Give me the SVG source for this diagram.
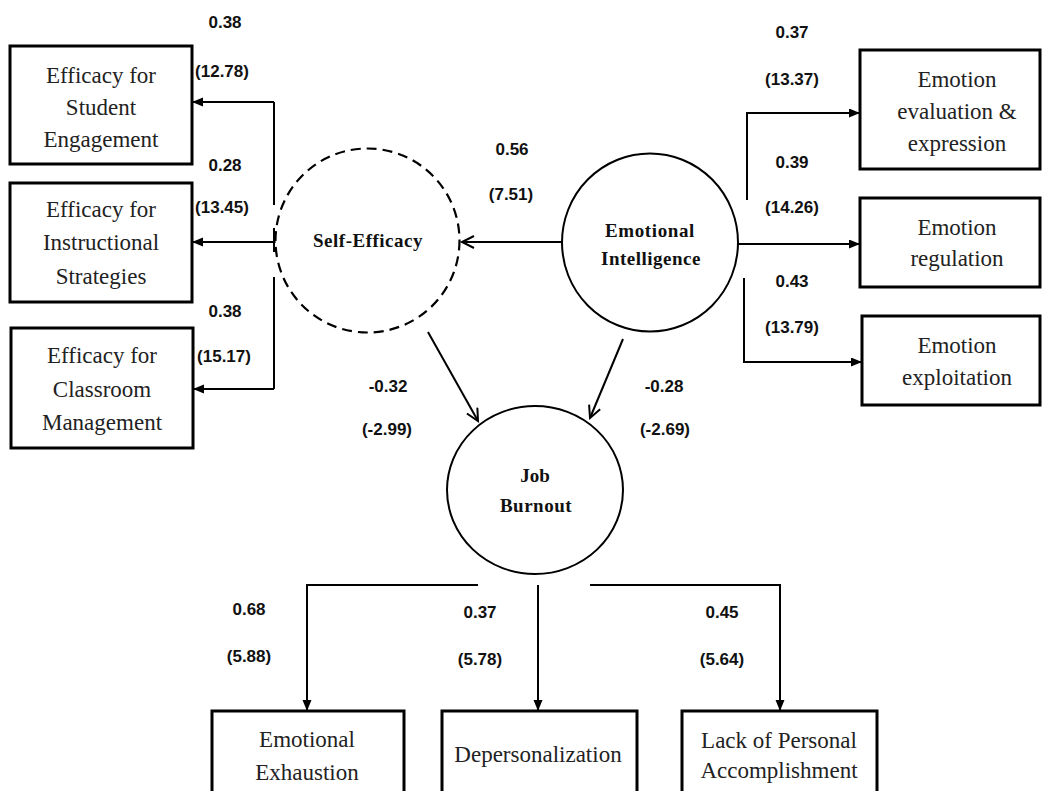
<svg xmlns="http://www.w3.org/2000/svg" width="1043" height="791" viewBox="0 0 1043 791">
<defs>
<marker id="tri" markerUnits="userSpaceOnUse" markerWidth="12" markerHeight="10" refX="11" refY="4.5" orient="auto">
<path d="M0,0 L11,4.5 L0,9 z" fill="#000"/>
</marker>
<marker id="vee" markerUnits="userSpaceOnUse" markerWidth="16" markerHeight="16" refX="13" refY="7" orient="auto">
<path d="M1,1 L13,7 L1,13" fill="none" stroke="#000" stroke-width="2"/>
</marker>
</defs>
<style>
.box{fill:#fff;stroke:#000;stroke-width:3}
.bt{font-family:"Liberation Serif","Times New Roman",serif;font-size:23px;text-anchor:middle;fill:#222}
.nt{font-family:"Liberation Serif","Times New Roman",serif;font-size:19px;font-weight:bold;text-anchor:middle;fill:#111}
.lb{font-family:"Liberation Sans",Arial,sans-serif;font-size:17px;font-weight:bold;text-anchor:middle;fill:#111}
.ln{fill:none;stroke:#000;stroke-width:2}
.circ{fill:#fff;stroke:#000;stroke-width:2}
</style>
<rect width="1043" height="791" fill="#fff"/>

<g id="connectors">
<path class="ln" d="M274,102 V205 M274,228 V252 M274,277 V389"/>
<path class="ln" d="M274,102 H192" marker-end="url(#tri)"/>
<path class="ln" d="M278,242 H192" marker-end="url(#tri)"/>
<path class="ln" d="M274,389 H193" marker-end="url(#tri)"/>
<path class="ln" d="M747,200 V113 H860" marker-end="url(#tri)"/>
<path class="ln" d="M738,244 H860" marker-end="url(#tri)"/>
<path class="ln" d="M744,278 V362 H862" marker-end="url(#tri)"/>
<path class="ln" d="M562,242 H462" marker-end="url(#vee)"/>
<path class="ln" d="M428,332 L478,421" marker-end="url(#vee)"/>
<path class="ln" d="M623,339 L590,418" marker-end="url(#vee)"/>
<path class="ln" d="M478,585 H307 V711" marker-end="url(#tri)"/>
<path class="ln" d="M538,585 V711" marker-end="url(#tri)"/>
<path class="ln" d="M590,585 H780 V711" marker-end="url(#tri)"/>
</g>

<g id="labels">
<text class="lb" x="225" y="28">0.38</text>
<text class="lb" x="222" y="77">(12.78)</text>
<text class="lb" x="225" y="171">0.28</text>
<text class="lb" x="222" y="213">(13.45)</text>
<text class="lb" x="225" y="317">0.38</text>
<text class="lb" x="224" y="362">(15.17)</text>
<text class="lb" x="792" y="38">0.37</text>
<text class="lb" x="792" y="85">(13.37)</text>
<text class="lb" x="792" y="168">0.39</text>
<text class="lb" x="792" y="213">(14.26)</text>
<text class="lb" x="792" y="287">0.43</text>
<text class="lb" x="792" y="333">(13.79)</text>
<text class="lb" x="512" y="155">0.56</text>
<text class="lb" x="511" y="200">(7.51)</text>
<text class="lb" x="388" y="392">-0.32</text>
<text class="lb" x="387" y="435">(-2.99)</text>
<text class="lb" x="664" y="392">-0.28</text>
<text class="lb" x="665" y="435">(-2.69)</text>
<text class="lb" x="249" y="615">0.68</text>
<text class="lb" x="249" y="662">(5.88)</text>
<text class="lb" x="480" y="618">0.37</text>
<text class="lb" x="480" y="665">(5.78)</text>
<text class="lb" x="722" y="618">0.45</text>
<text class="lb" x="722" y="665">(5.64)</text>
</g>

<g id="self-efficacy">
<circle cx="367.5" cy="240.5" r="92" fill="#fff" stroke="#000" stroke-width="2.2" stroke-dasharray="10,6"/>
<text class="nt" x="368" y="247" letter-spacing="0.5">Self-Efficacy</text>
</g>

<g id="emotional-intelligence">
<ellipse class="circ" cx="650" cy="242.5" rx="88" ry="89"/>
<text class="nt" x="650" y="237" letter-spacing="0.6">Emotional</text>
<text class="nt" x="651" y="265" letter-spacing="0.5">Intelligence</text>
</g>

<g id="job-burnout">
<ellipse class="circ" cx="535" cy="490" rx="88" ry="84"/>
<text class="nt" x="535" y="482">Job</text>
<text class="nt" x="536" y="512" letter-spacing="0.5">Burnout</text>
</g>

<g id="efficacy-student-engagement">
<rect class="box" x="10" y="46" width="182" height="118"/>
<text class="bt" x="101" y="83">Efficacy for</text>
<text class="bt" x="101" y="115">Student</text>
<text class="bt" x="101" y="147">Engagement</text>
</g>

<g id="efficacy-instructional-strategies">
<rect class="box" x="10" y="183" width="182" height="119"/>
<text class="bt" x="101" y="217">Efficacy for</text>
<text class="bt" x="101" y="250">Instructional</text>
<text class="bt" x="101" y="284">Strategies</text>
</g>

<g id="efficacy-classroom-management">
<rect class="box" x="11" y="328" width="182" height="120"/>
<text class="bt" x="102" y="363">Efficacy for</text>
<text class="bt" x="102" y="397">Classroom</text>
<text class="bt" x="102" y="430">Management</text>
</g>

<g id="emotion-evaluation-expression">
<rect class="box" x="860" y="50" width="180" height="119"/>
<text class="bt" x="957" y="87">Emotion</text>
<text class="bt" x="957" y="119">evaluation &amp;</text>
<text class="bt" x="957" y="151">expression</text>
</g>

<g id="emotion-regulation">
<rect class="box" x="860" y="198" width="180" height="89"/>
<text class="bt" x="957" y="235">Emotion</text>
<text class="bt" x="957" y="266">regulation</text>
</g>

<g id="emotion-exploitation">
<rect class="box" x="862" y="316" width="178" height="89"/>
<text class="bt" x="957" y="353">Emotion</text>
<text class="bt" x="957" y="385">exploitation</text>
</g>

<g id="emotional-exhaustion">
<rect class="box" x="212" y="711" width="192" height="90"/>
<text class="bt" x="307" y="747">Emotional</text>
<text class="bt" x="307" y="780">Exhaustion</text>
</g>

<g id="depersonalization">
<rect class="box" x="442" y="711" width="195" height="90"/>
<text class="bt" x="538" y="762">Depersonalization</text>
</g>

<g id="lack-personal-accomplishment">
<rect class="box" x="682" y="711" width="195" height="90"/>
<text class="bt" x="779" y="748">Lack of Personal</text>
<text class="bt" x="779" y="778">Accomplishment</text>
</g>
</svg>
